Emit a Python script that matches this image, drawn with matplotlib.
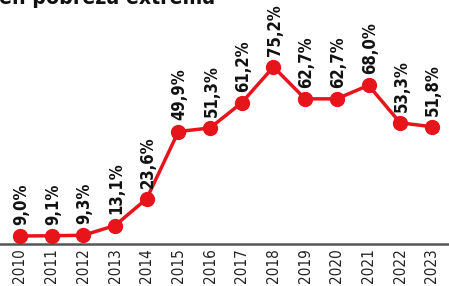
import matplotlib.pyplot as plt

plt.rcParams['font.family'] = ['DejaVu Sans']
plt.rcParams['font.stretch'] = 'condensed'

# pobreza extrema (%)
years = [2010, 2011, 2012, 2013, 2014, 2015, 2016,
         2017, 2018, 2019, 2020, 2021, 2022, 2023]
values = [9.0, 9.1, 9.3, 13.1, 23.6, 49.9, 51.3,
          61.2, 75.2, 62.7, 62.7, 68.0, 53.3, 51.8]
labels = ['9,0%', '9,1%', '9,3%', '13,1%', '23,6%', '49,9%', '51,3%',
          '61,2%', '75,2%', '62,7%', '62,7%', '68,0%', '53,3%', '51,8%']

red = '#e8141c'

fig = plt.figure(figsize=(4.49, 2.86), dpi=100)
ax = fig.add_axes([0, (286-244)/286, 1, 244/286])

ax.plot(years, values, color=red, lw=2.5, marker='o', ms=10,
        markerfacecolor=red, markeredgecolor=red, zorder=3)

for x, v, lab in zip(years, values, labels):
    ax.annotate(lab, (x, v), xytext=(1, 8), textcoords='offset points',
                rotation=90, ha='center', va='bottom',
                fontsize=12, fontweight='bold', color='#111111')

ax.set_xlim(2009.37, 2023.54)
ax.set_ylim(5.87, 101.4)

for s in ['top', 'right', 'left']:
    ax.spines[s].set_visible(False)
ax.spines['bottom'].set_color('#555555')
ax.spines['bottom'].set_linewidth(1.8)

ax.set_yticks([])
ax.set_xticks(years)
ax.set_xticklabels([str(y) for y in years], rotation=90, fontsize=11,
                   color='#222222')
ax.tick_params(axis='x', length=0, pad=3)

fig.text(-0.003, 1 - 4/286, 'en pobreza extrema', fontsize=15.2,
         fontweight='bold', ha='left', va='baseline', color='#111111')

fig.savefig('out.png', dpi=100)
